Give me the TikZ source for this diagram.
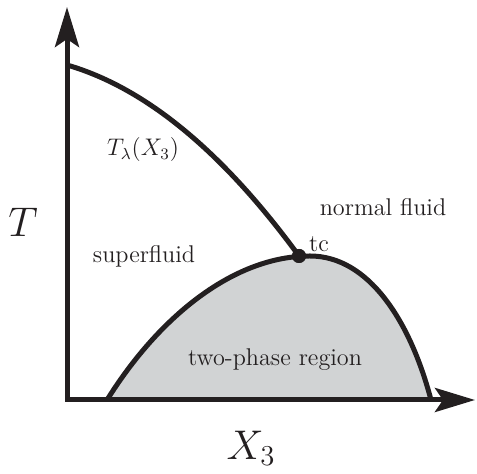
\documentclass[tikz,border=0pt]{standalone}
\usetikzlibrary{arrows.meta}
\definecolor{ink}{RGB}{35,31,32}
\definecolor{phasegray}{RGB}{209,211,212}
\begin{document}
\begin{tikzpicture}[x=0.5pt,y=-0.5pt,
  axis/.style={draw=ink,line width=2.5pt,line join=miter,
    {Stealth[length=20pt,width=12pt,inset=4pt]}-{Stealth[length=20pt,width=12pt,inset=4pt]}},
  curve/.style={draw=ink,line width=2.5pt},
  lbl/.style={font=\fontsize{12.1}{14.5}\selectfont,text=ink,inner sep=0pt},
  biglbl/.style={font=\fontsize{21}{25}\selectfont,text=ink,inner sep=0pt},
  dotnode/.style={circle,fill=ink,inner sep=0pt,minimum size=7pt}]
\useasboundingbox (0,0) rectangle (477,474);
% two-phase region
\coordinate (left) at (107,400);
\coordinate (right) at (431,400);
\coordinate (peak) at (310,256);
\fill[phasegray] (left) .. controls (160,315) and (235,256) .. (peak)
  .. controls (368,256) and (410,320) .. (right) -- cycle;
\draw[curve] (left) .. controls (160,315) and (235,256) .. (peak)
  .. controls (368,256) and (410,320) .. (right);
% axes
\coordinate (ytip) at (67,7);
\coordinate (origin) at (67,400);
\coordinate (xtip) at (475,400);
\path[axis] (ytip) -- (origin) -- (xtip);
% lambda line
\coordinate (lstart) at (67,65);
\node[dotnode] (tc) at (299,256) {};
\draw[curve] (lstart) .. controls (146,88) and (223,152) .. (tc.center);
\node[dotnode] at (tc) {};
% labels
\node[lbl] (tcl) at (319,244) {tc};
\node[lbl] (tlam) at (143,150) {$T_\lambda(X_3)$};
\node[lbl] (sf) at (144,256) {superfluid};
\node[lbl] (nf) at (383,207) {normal fluid};
\node[lbl] (tp) at (275,360) {two-phase region};
\node[biglbl] (Tax) at (23,222) {$T$};
\node[biglbl] (Xax) at (251,448) {$X_3$};
\end{tikzpicture}
\end{document}
